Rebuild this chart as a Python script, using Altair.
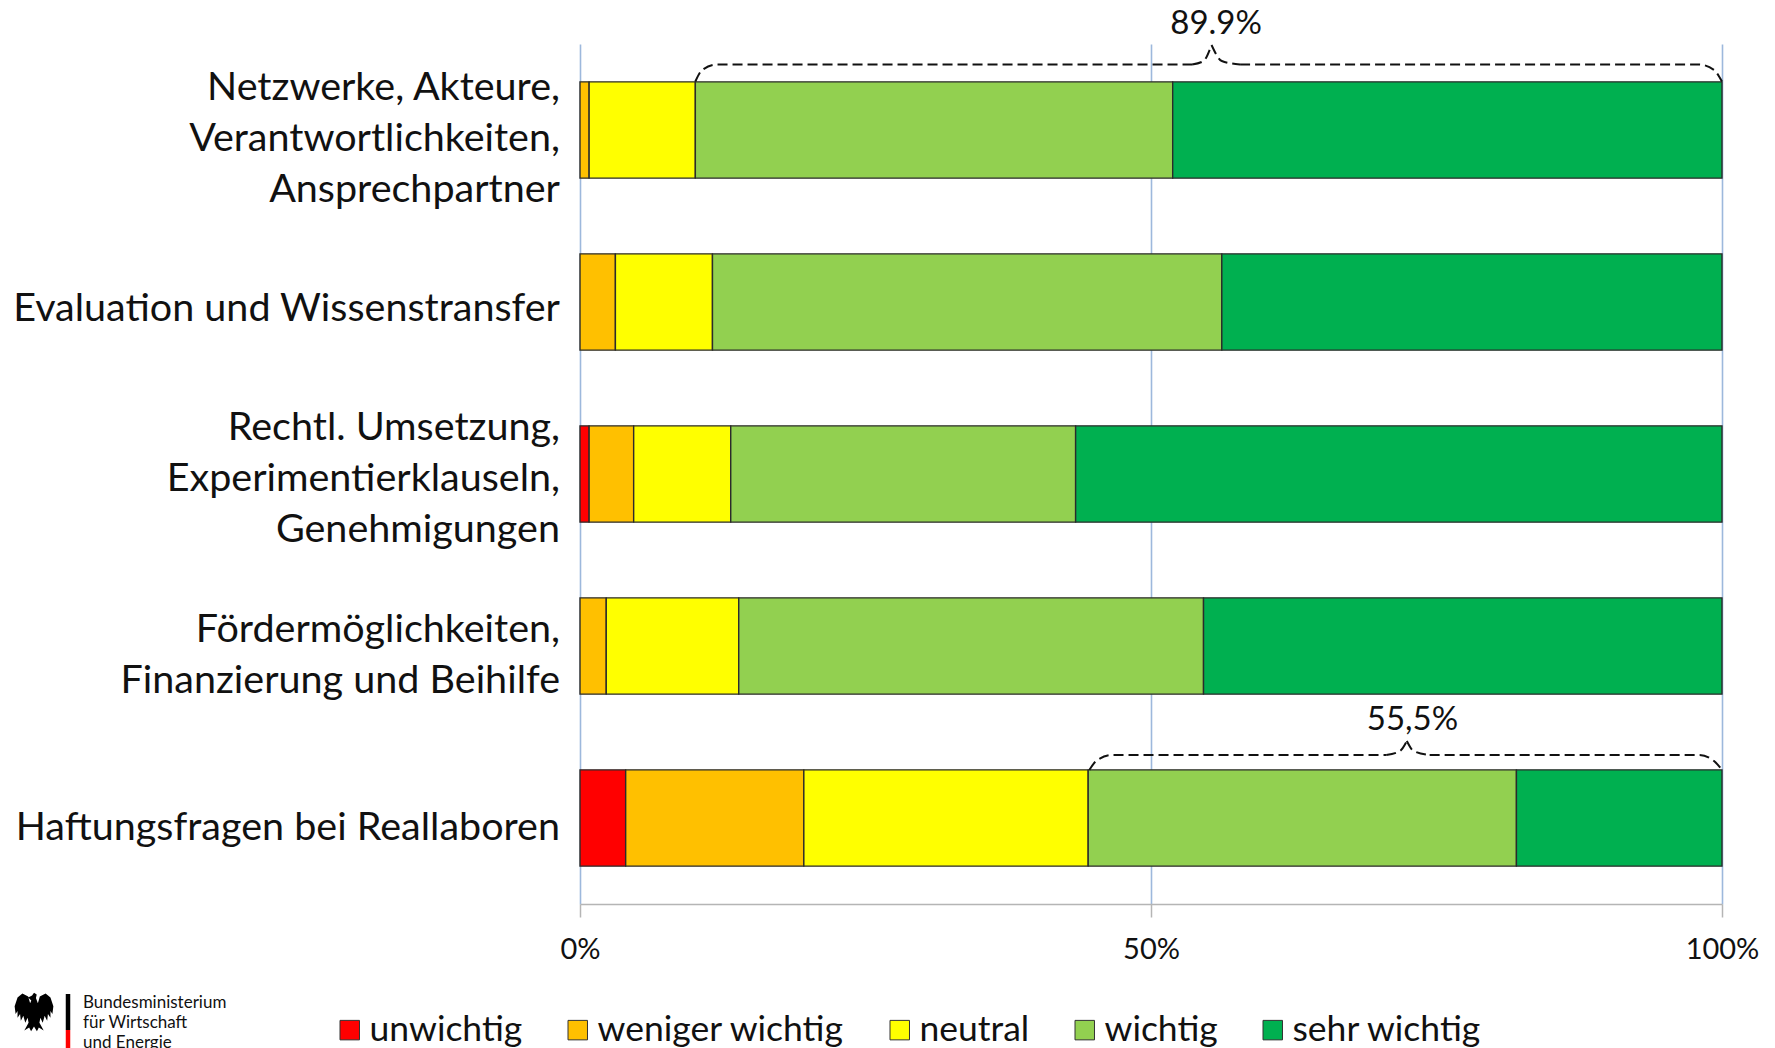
import altair as alt
import pandas as pd

FONT = "Lato"
categories = [
    "Netzwerke, Akteure,|Verantwortlichkeiten,|Ansprechpartner",
    "Evaluation und Wissenstransfer",
    "Rechtl. Umsetzung,|Experimentierklauseln,|Genehmigungen",
    "Fördermöglichkeiten,|Finanzierung und Beihilfe",
    "Haftungsfragen bei Reallaboren",
]
levels = ["unwichtig", "weniger wichtig", "neutral", "wichtig", "sehr wichtig"]
colors = ["#FF0000", "#FFC000", "#FFFF00", "#92D050", "#00B050"]
unwichtig = [0, 0, 0.8, 0, 4.0]
weniger = [0.8, 3.1, 3.9, 2.3, 15.6]
neutral = [9.3, 8.5, 8.5, 11.6, 24.9]
wichtig = [41.8, 44.6, 30.2, 40.7, 37.5]
sehr = [48.1, 43.8, 56.6, 45.4, 18.0]
series = [unwichtig, weniger, neutral, wichtig, sehr]

rows = []
for li, (lv, vals) in enumerate(zip(levels, series)):
    for c, v in zip(categories, vals):
        if v > 0:
            rows.append({"cat": c, "level": lv, "idx": li, "value": v})
df = pd.DataFrame(rows)

PX0, PY0, W, H = 580, 44, 1142, 860
STEP = H / len(categories)
LINE = 51
LABEL_SHIFT = [8.5, 7, 5, 9.5, 9.5]

bars = alt.Chart(df).mark_bar(stroke="#2b2b2b", strokeWidth=1.4).encode(
    x=alt.X("value:Q", stack="zero",
            scale=alt.Scale(domain=[0, 100], nice=False),
            axis=alt.Axis(values=[0, 50, 100], title=None, grid=True,
                          gridColor="#9DB8DC", gridWidth=1.6,
                          domainColor="#B5B5B5", domainWidth=1.5,
                          tickColor="#B5B5B5", tickSize=13, tickWidth=1.5,
                          labelExpr="datum.value + '%'", labelFont=FONT,
                          labelFontSize=29, labelColor="#111111",
                          labelPadding=18, labelFlush=False)),
    y=alt.Y("cat:N", sort=categories,
            scale=alt.Scale(paddingInner=0.44, paddingOuter=0.22),
            axis=None),
    color=alt.Color("level:N", scale=alt.Scale(domain=levels, range=colors),
                    legend=alt.Legend(orient="none", legendX=-248, legendY=968,
                                      direction="horizontal", columns=5,
                                      title=None, symbolType="square",
                                      symbolSize=380, symbolStrokeColor="#333333",
                                      symbolStrokeWidth=1, labelFont=FONT,
                                      labelFontSize=35.5, labelColor="#111111",
                                      labelOffset=2, columnPadding=37,
                                      labelLimit=400)),
    order=alt.Order("idx:Q"),
)

# Braces: x in percent, y in plot-height units counted from the top of the plot
bd = pd.DataFrame(
    [{"g": "a1", "x": x, "y": y} for x, y in [(10.1, 37.5), (10.7, 26), (12.0, 20.5), (53.6, 20.5)]]
    + [{"g": "a2", "x": x, "y": y} for x, y in [(53.6, 20.5), (54.6, 17), (55.3, 1)]]
    + [{"g": "a3", "x": x, "y": y} for x, y in [(55.3, 1), (56.2, 17), (57.8, 20.5)]]
    + [{"g": "a4", "x": x, "y": y} for x, y in [(57.8, 20.5), (98.0, 20.5), (99.3, 26), (100, 37.5)]]
    + [{"g": "b1", "x": x, "y": y} for x, y in [(44.6, 726), (45.2, 717), (46.6, 711), (70.6, 711)]]
    + [{"g": "b2", "x": x, "y": y} for x, y in [(70.6, 711), (71.8, 707), (72.4, 697)]]
    + [{"g": "b3", "x": x, "y": y} for x, y in [(72.4, 697), (73.0, 707), (74.4, 711)]]
    + [{"g": "b4", "x": x, "y": y} for x, y in [(74.4, 711), (98.0, 711), (99.3, 717), (100, 726)]]
)
yscale = alt.Scale(domain=[H, 0], nice=False, zero=False)
xscale = alt.Scale(domain=[0, 100], nice=False)
braces = alt.Chart(bd).mark_line(color="#111111", strokeWidth=2, strokeDash=[10, 5],
                                 interpolate="monotone", clip=False).encode(
    x=alt.X("x:Q", scale=xscale),
    y=alt.Y("y:Q", scale=yscale, axis=None),
    detail="g:N",
)

notes = pd.DataFrame({"x": [55.7, 72.9], "y": [-20, 676], "t": ["89.9%", "55,5%"]})
note_text = alt.Chart(notes).mark_text(font=FONT, fontSize=33, color="#111111",
                                       baseline="middle", clip=False).encode(
    x=alt.X("x:Q", scale=xscale),
    y=alt.Y("y:Q", scale=yscale, axis=None),
    text="t:N",
)

# Category labels, one row per text line, centred on the band of their category
label_rows = []
for i, c in enumerate(categories):
    lines = c.split("|")
    for j, t in enumerate(lines):
        label_rows.append({"t": t,
                           "y": (i + 0.5) * STEP + LABEL_SHIFT[i] + (j - (len(lines) - 1) / 2) * LINE})
cat_labels = alt.Chart(pd.DataFrame(label_rows)).mark_text(
    font=FONT, fontSize=39.5, color="#111111", align="right", baseline="middle", clip=False
).encode(x=alt.value(-20), y=alt.Y("y:Q", scale=yscale, axis=None), text="t:N")

# Logo block
def px(v): return alt.value(v - PX0)
def py(v): return alt.value(v - PY0)
one = pd.DataFrame({"a": [0]})
logo_lines = ["Bundesministerium", "für Wirtschaft", "und Energie"]
logo_y = [1003, 1023, 1043]
logo_text = [alt.Chart(one).mark_text(text=t, font=FONT, fontSize=17, align="left",
                                      baseline="middle", color="#111111", clip=False)
             .encode(x=px(83), y=py(y)) for t, y in zip(logo_lines, logo_y)]
bar_black = alt.Chart(one).mark_rule(color="#000000", strokeWidth=4.5).encode(
    x=px(68), y=py(994), y2=py(1030))
bar_red = alt.Chart(one).mark_rule(color="#FF0000", strokeWidth=4.5).encode(
    x=px(68), y=py(1030), y2=py(1048))
EAGLE = ("M0,-1 L0.14,-0.9 L0.1,-0.72 L0.2,-0.45 L0.3,-0.8 L0.6,-0.95 L0.85,-0.75 L1,-0.3 "
         "L0.95,0.1 L0.85,-0.05 L0.85,0.3 L0.72,0.1 L0.68,0.45 L0.55,0.2 L0.45,0.55 L0.33,0.3 "
         "L0.28,0.55 L0.5,0.95 L0.25,0.8 L0.15,1 L0,0.75 L-0.15,1 L-0.25,0.8 L-0.5,0.95 "
         "L-0.28,0.55 L-0.33,0.3 L-0.45,0.55 L-0.55,0.2 L-0.68,0.45 L-0.72,0.1 L-0.85,0.3 "
         "L-0.85,-0.05 L-0.95,0.1 L-1,-0.3 L-0.85,-0.75 L-0.6,-0.95 L-0.3,-0.8 L-0.2,-0.45 "
         "L-0.14,-0.6 L-0.3,-0.75 L-0.1,-0.85 Z")
eagle = alt.Chart(one).mark_point(shape=EAGLE, filled=True, color="#000000", opacity=1,
                                  size=1500, clip=False).encode(x=px(34), y=py(1012))

chart = alt.layer(bars, braces, note_text, cat_labels, *logo_text, bar_black, bar_red, eagle).resolve_scale(
    y="independent", x="shared", color="independent"
).resolve_axis(y="independent").properties(
    width=W, height=H,
    background="white",
    autosize=alt.AutoSizeParams(type="none"),
    padding={"left": PX0 - 8, "top": PY0 - 8, "right": 37, "bottom": 144},
).configure_view(stroke=None)

chart.save("out.html", embed_options={"renderer": "svg", "actions": False})
